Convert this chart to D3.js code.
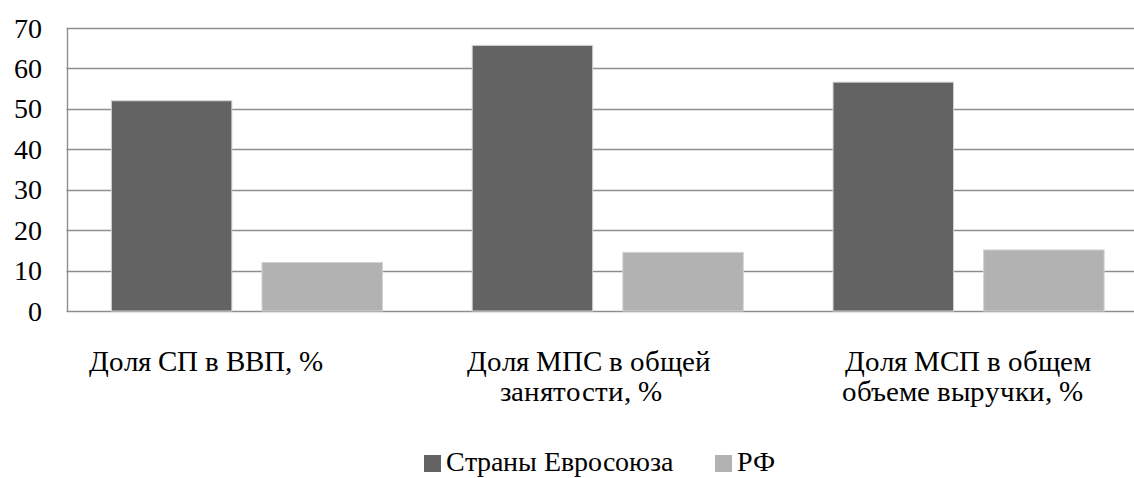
<!DOCTYPE html>
<html><head><meta charset="utf-8">
<script src="https://cdn.jsdelivr.net/npm/d3@7"></script>
<style>
@font-face { font-family: "ChartSerif"; src: local("Liberation Serif"), local("LiberationSerif"), local("LiberationSerif-Regular"); }
</style>
</head><body style="margin:0">
<svg id="s" width="1134" height="478"></svg>
<script>
// ---- data ----
const categories = ["Доля СП в ВВП, %", "Доля МПС в общей занятости, %", "Доля МСП в общем объеме выручки, %"];
const categoryLines = [["Доля СП в ВВП, %"], ["Доля МПС в общей", "занятости, %"], ["Доля МСП в общем", "объеме выручки, %"]];
const seriesNames = ["Страны Евросоюза", "РФ"];
const euValues = [52, 65.7, 56.6];
const rfValues = [12, 14.5, 15.1];
const yTicks = [0, 10, 20, 30, 40, 50, 60, 70];

// ---- layout / style ----
const colors = ["#636363", "#b2b2b2"];
const plot = { left: 66.5, right: 1149, top: 28, bottom: 311 };
const FONT = "ChartSerif, 'Liberation Serif'";
const labelShift = [[-40.7], [-19, -26.6], [-1, -6]];

const svg = d3.select("#s");

const x = d3.scaleBand().domain(categories).range([plot.left, plot.right]).padding(0);
const xs = d3.scaleBand().domain(seriesNames).range([0, x.bandwidth()]).paddingInner(0.2).paddingOuter(0.298);
const y = d3.scaleLinear().domain([0, 70]).range([plot.bottom, plot.top]);

// gridlines
svg.append("g").selectAll("line").data(yTicks).join("line")
  .attr("x1", plot.left).attr("x2", plot.right)
  .attr("y1", d => Math.round(y(d)) + 0.5).attr("y2", d => Math.round(y(d)) + 0.5)
  .attr("stroke", "#8e8e8e").attr("stroke-width", 1.4);

// left axis line
svg.append("line")
  .attr("x1", Math.round(plot.left) + 0.5).attr("x2", Math.round(plot.left) + 0.5)
  .attr("y1", Math.round(y(70)) + 0.5).attr("y2", Math.round(y(0)) + 0.5)
  .attr("stroke", "#8e8e8e").attr("stroke-width", 1.4);

// y tick labels from the scale
svg.selectAll("text.tick").data(yTicks).join("text").attr("class", "tick")
  .attr("x", 41.5).attr("y", d => y(d)).attr("dy", "0.34em")
  .attr("text-anchor", "end")
  .style("font-family", FONT).style("font-size", "28px")
  .text(d => y.tickFormat()(d));

// bars
const rows = categories.map((c, i) => ({ cat: c, vals: [euValues[i], rfValues[i]] }));
const g = svg.append("g").selectAll("g").data(rows).join("g")
  .attr("transform", d => `translate(${x(d.cat)},0)`);
g.selectAll("rect").data(d => d.vals.map((v, j) => ({ s: seriesNames[j], v, j }))).join("rect")
  .attr("x", d => xs(d.s))
  .attr("width", xs.bandwidth())
  .attr("y", d => y(d.v))
  .attr("height", d => y(0) - y(d.v))
  .attr("fill", d => colors[d.j])
  .attr("stroke", "#d2d2d2").attr("stroke-width", 1);

// category labels
categories.forEach((c, i) => {
  categoryLines[i].forEach((line, k) => {
    svg.append("text")
      .attr("x", x(c) + x.bandwidth() / 2 + labelShift[i][k])
      .attr("y", 371 + k * 30)
      .attr("text-anchor", "middle")
      .style("font-family", FONT).style("font-size", "29px")
      .text(line);
  });
});

// legend
const legendX = [424, 715];
seriesNames.forEach((s, i) => {
  svg.append("rect").attr("x", legendX[i]).attr("y", 455).attr("width", 17).attr("height", 17)
    .attr("fill", colors[i]);
  svg.append("text").attr("x", legendX[i] + 22).attr("y", 471)
    .style("font-family", FONT).style("font-size", "28px")
    .text(s);
});
</script>
</body></html>
